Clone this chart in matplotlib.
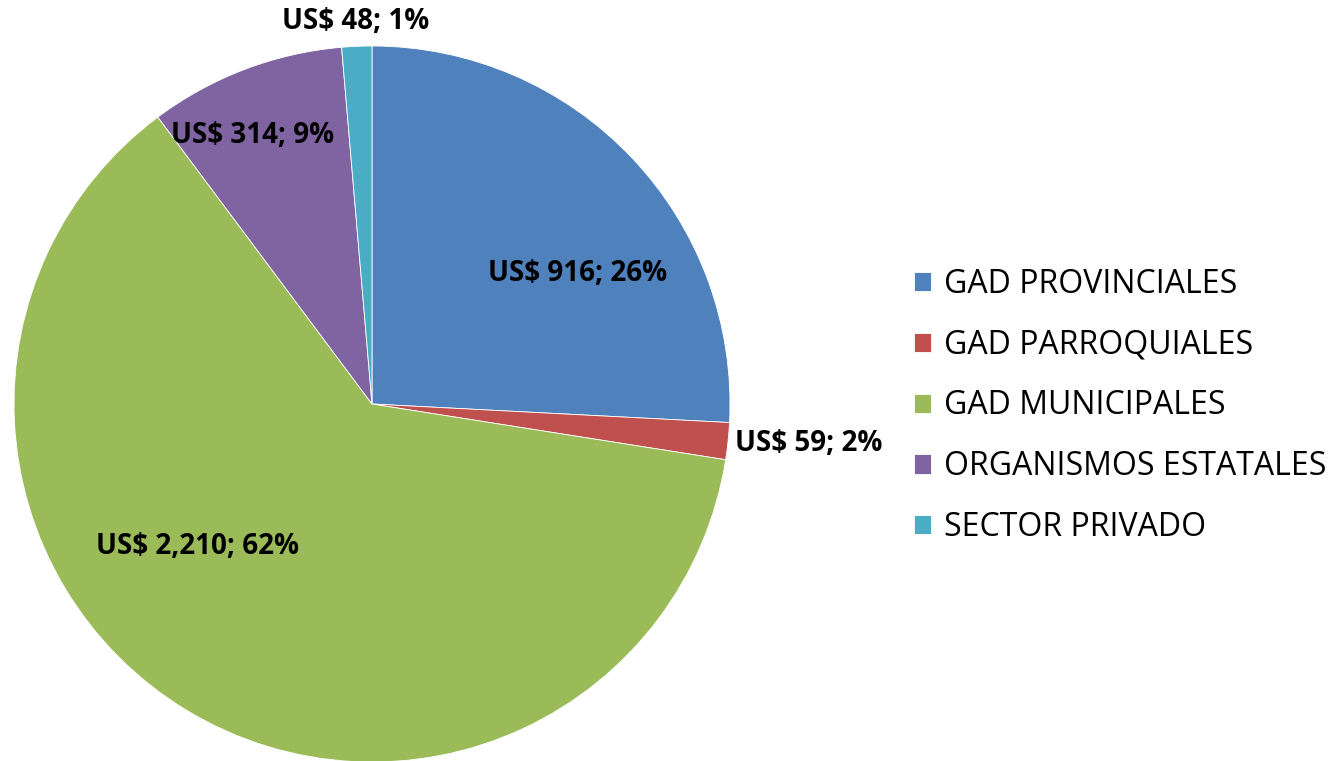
import numpy as np
import matplotlib.pyplot as plt

categories = ['GAD PROVINCIALES', 'GAD PARROQUIALES', 'GAD MUNICIPALES',
              'ORGANISMOS ESTATALES', 'SECTOR PRIVADO']
values = [916, 59, 2210, 314, 48]
colors = ['#4F81BD', '#C0504D', '#9BBB59', '#8064A2', '#4BACC6']

# label placement (radius, angle in degrees, horizontal alignment)
label_pos = [(0.68, 32.5, 'center'), (1.02, -6.2, 'left'), (0.63, -140.7, 'center'),
             (0.82, 114.0, 'center'), (1.07, 92.5, 'center')]

plt.rcParams['font.family'] = ['Open Sans', 'DejaVu Sans']

fig = plt.figure(figsize=(13.43, 7.61), dpi=100)
ax = fig.add_axes([14 / 1343, -1 / 761, 716 / 1343, 716 / 761])

wedges, _ = ax.pie(values, colors=colors, startangle=90, counterclock=False,
                   wedgeprops=dict(edgecolor='white', linewidth=0.6))
ax.set_xlim(-1, 1)
ax.set_ylim(-1, 1)
ax.set_aspect('equal')
ax.axis('off')

total = sum(values)
for v, (r, ang, ha) in zip(values, label_pos):
    pct = round(100 * v / total)
    x = r * np.cos(np.radians(ang))
    y = r * np.sin(np.radians(ang))
    ax.text(x, y, f'US$ {v:,}; {pct}%', ha=ha, va='center', fontsize=20,
            fontweight='bold', color='black', clip_on=False)

fig.legend(wedges, categories, loc='center left',
           bbox_to_anchor=(885 / 1343, 1 - 406 / 761), frameon=False,
           fontsize=23, handlelength=0.55, handleheight=0.55, handletextpad=0.4,
           labelspacing=0.87)

fig.savefig('out.png', dpi=100)
